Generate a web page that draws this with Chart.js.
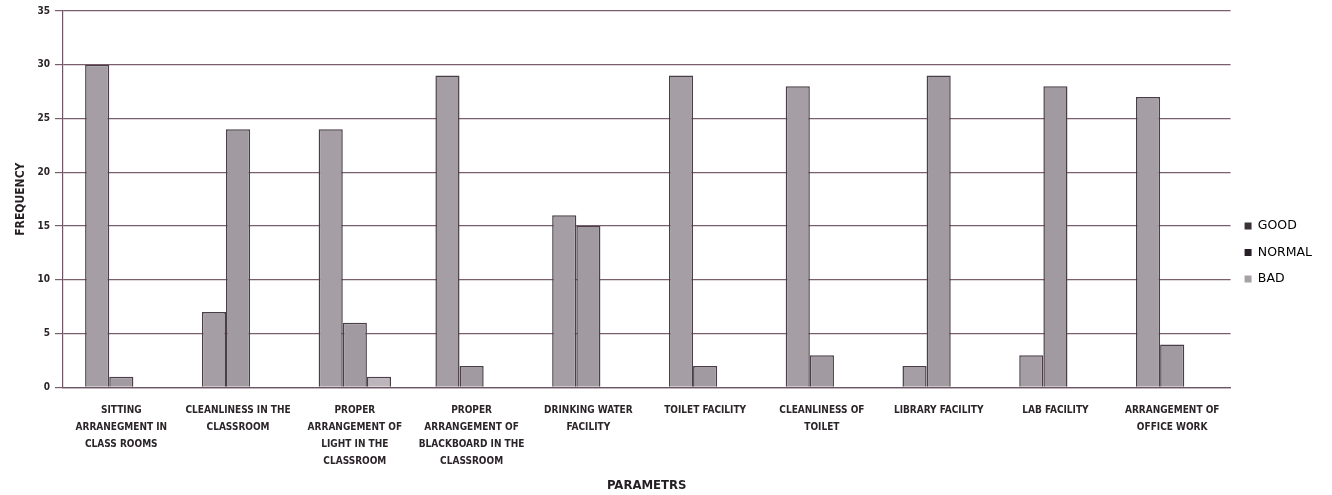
<!DOCTYPE html>
<html>
<head>
<meta charset="utf-8">
<script src="https://cdn.jsdelivr.net/npm/chart.js@4"></script>
<style>
  html, body { margin: 0; padding: 0; background: #fff; }
  #wrap { width: 1332px; height: 495px; }
</style>
</head>
<body>
<div id="wrap"><canvas id="freq"></canvas></div>
<script>
const parameters = [
  ["SITTING", "ARRANEGMENT IN", "CLASS ROOMS"],
  ["CLEANLINESS IN THE", "CLASSROOM"],
  ["PROPER", "ARRANGEMENT OF", "LIGHT IN THE", "CLASSROOM"],
  ["PROPER", "ARRANGEMENT OF", "BLACKBOARD IN THE", "CLASSROOM"],
  ["DRINKING WATER", "FACILITY"],
  ["TOILET FACILITY"],
  ["CLEANLINESS OF", "TOILET"],
  ["LIBRARY FACILITY"],
  ["LAB FACILITY"],
  ["ARRANGEMENT OF", "OFFICE WORK"]
];
const good   = [30, 7, 24, 29, 16, 29, 28, 2, 3, 27];
const normal = [1, 24, 6, 2, 15, 2, 3, 29, 28, 4];
const bad    = [0, 0, 1, 0, 0, 0, 0, 0, 0, 0];
const yTicks = [0, 5, 10, 15, 20, 25, 30, 35];

const labelFont = "'Liberation Sans Narrow', 'DejaVu Sans Condensed', 'Open Sans', sans-serif";
const legendColors = ["#3b3139", "#262026", "#a7a0a6"];

const makeSet = (label, data, fill) => ({
  label: label,
  data: data,
  backgroundColor: fill,
  borderColor: "#4a3e48",
  borderWidth: 1.5,
  borderSkipped: "bottom"
});

const ctx = document.querySelector("#freq");
const freqChart = new Chart(ctx, {
  type: "bar",
  data: {
    labels: parameters,
    datasets: [
      makeSet("GOOD", good, "#a59fa5"),
      makeSet("NORMAL", normal, "#a19ba1"),
      makeSet("BAD", bad, "#bcb6bb")
    ]
  },
  options: {
    responsive: true,
    maintainAspectRatio: false,
    animation: false,
    layout: { padding: { top: 10, right: 10, left: 14, bottom: 0 } },
    datasets: { bar: { categoryPercentage: 0.62, barPercentage: 1.0 } },
    plugins: {
      tooltip: { enabled: false },
      legend: {
        position: "right",
        align: "center",
        labels: {
          boxWidth: 7,
          boxHeight: 7,
          padding: 14,
          color: "#2b252a",
          font: { family: "'DejaVu Sans', sans-serif", size: 12.5 },
          generateLabels: (chart) => chart.data.datasets.map((ds, i) => ({
            text: ds.label,
            fillStyle: legendColors[i],
            strokeStyle: legendColors[i],
            lineWidth: 0,
            datasetIndex: i
          }))
        }
      }
    },
    scales: {
      x: {
        grid: { display: false },
        border: { display: true, color: "#6d5563", width: 1.2 },
        ticks: {
          maxRotation: 0,
          autoSkip: false,
          padding: 7,
          color: "#2b252a",
          font: { family: labelFont, size: 10, weight: "bold", lineHeight: 1.7 }
        },
        title: {
          display: true,
          text: "PARAMETRS",
          color: "#241f23",
          padding: { top: 0, bottom: 2 },
          font: { family: labelFont, size: 13, weight: "bold" }
        }
      },
      y: {
        min: 0,
        max: 35,
        afterBuildTicks: (axis) => { axis.ticks = yTicks.map(v => ({ value: v })); },
        grid: { color: "#7a5e6c", lineWidth: 1.2, tickLength: 8 },
        border: { display: true, color: "#6d5563", width: 1.2 },
        ticks: {
          padding: 5,
          color: "#2b252a",
          font: { family: labelFont, size: 10, weight: "bold" }
        },
        title: {
          display: true,
          text: "FREQUENCY",
          color: "#241f23",
          padding: { top: 0, bottom: 4 },
          font: { family: labelFont, size: 12, weight: "bold" }
        }
      }
    }
  }
});
</script>
</body>
</html>
